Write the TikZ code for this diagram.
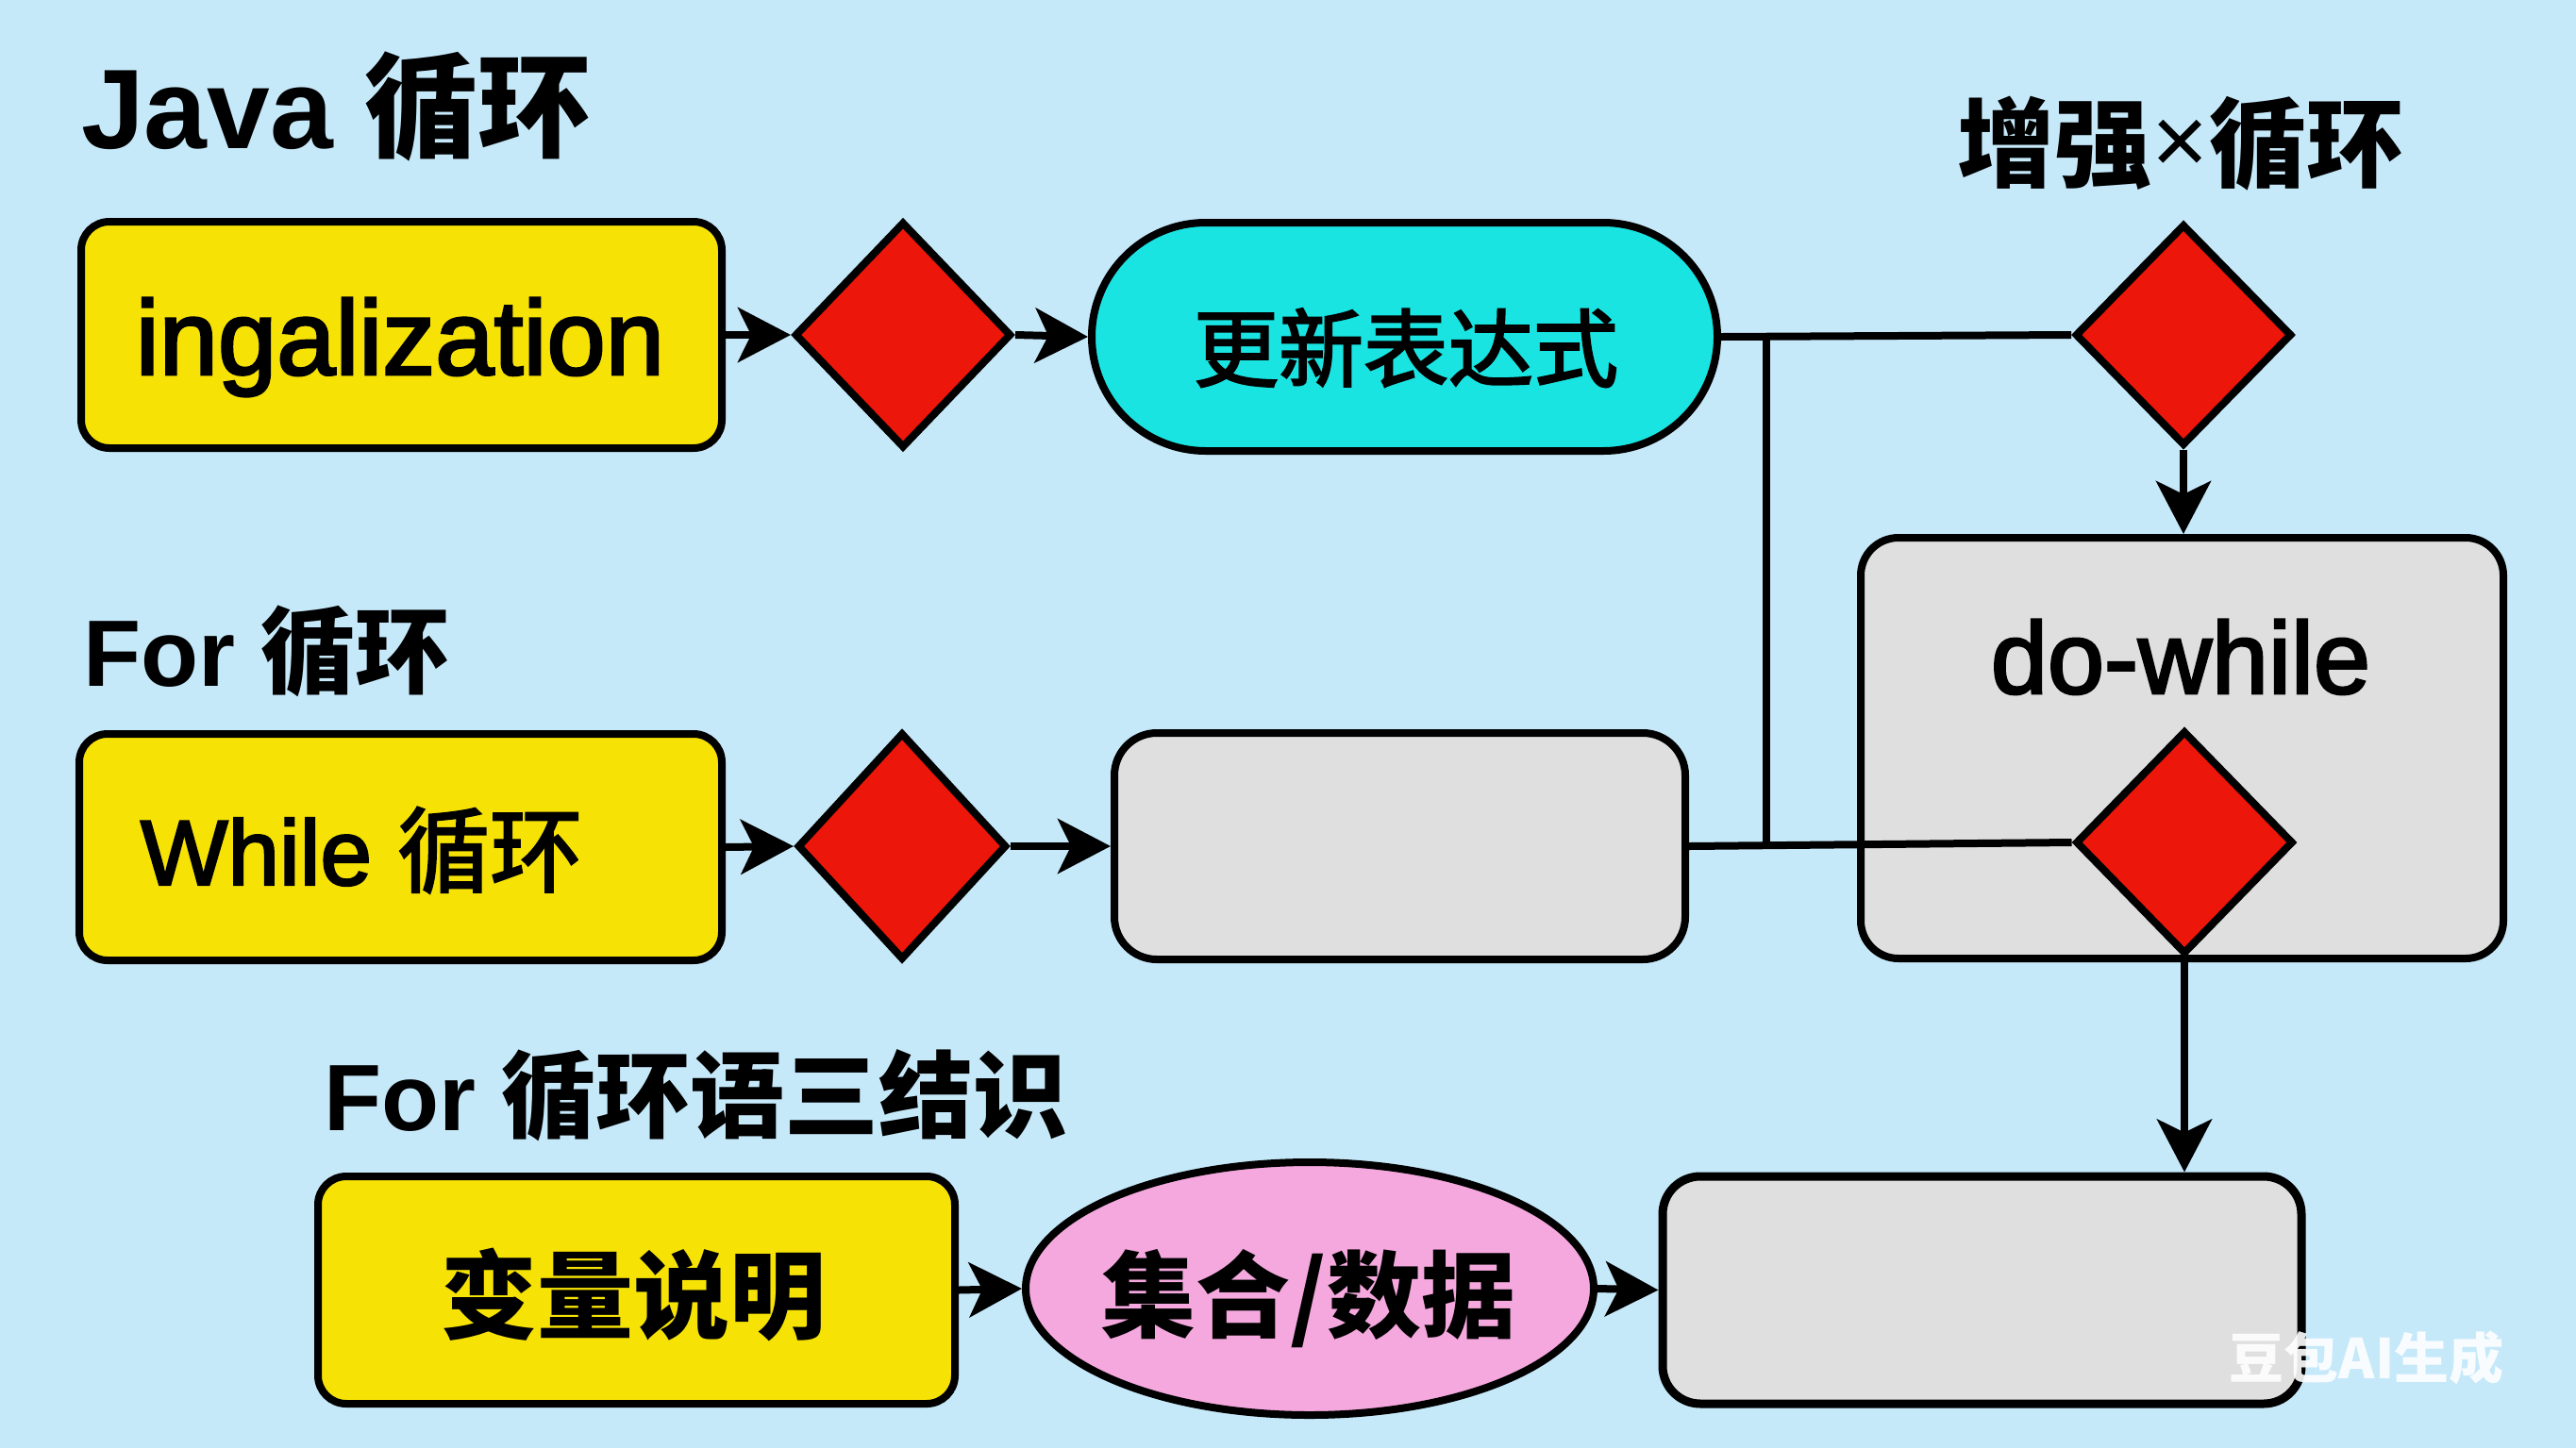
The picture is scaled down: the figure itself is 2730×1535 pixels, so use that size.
\documentclass[tikz,border=0pt]{standalone}
\usepackage{fontspec}
\setmainfont{Liberation Sans}
\newfontfamily\cjk{Noto Sans CJK SC}
\newfontfamily\cjkm{Noto Sans CJK SC}[FakeBold=2.5]
\newfontfamily\latm{Liberation Sans}[FakeBold=2.5]
\usetikzlibrary{shapes.geometric,arrows.meta}
\definecolor{bgc}{RGB}{198,233,250}
\definecolor{yellowc}{RGB}{246,226,5}
\definecolor{redc}{RGB}{236,22,10}
\definecolor{cyanc}{RGB}{25,228,225}
\definecolor{grayc}{RGB}{223,223,223}
\definecolor{pinkc}{RGB}{245,168,222}
\newcommand\setfs[1]{\fontsize{#1}{#1}\selectfont}
\tikzset{
  ybox/.style={draw=black, line width=8pt, fill=yellowc, rounded corners=30pt, inner sep=0pt},
  gbox/.style={draw=black, line width=8pt, fill=grayc, rounded corners=40pt, inner sep=0pt},
  dia/.style={diamond, draw=black, line width=8pt, fill=redc, inner sep=0pt},
  txt/.style={inner sep=0pt, outer sep=0pt},
  arr/.style={line width=8pt, -{Stealth[length=56pt,width=58pt,inset=14pt]}},
  conn/.style={line width=8pt}
}
\begin{document}
\begin{tikzpicture}[x=1pt,y=-1pt]
\useasboundingbox (0,0) rectangle (2730,1535);
\fill[bgc] (0,0) rectangle (2730,1535);

% titles
\node[txt, anchor=base west] (tjava) at (86,157) {\setfs{120}\bfseries Java {\cjk\bfseries 循环}};
\node[txt, anchor=base west] (tfor) at (88,727) {\setfs{100}\bfseries For {\cjk\bfseries 循环}};
\node[txt, anchor=base west] (tfor2) at (343,1198) {\setfs{100}\bfseries For {\cjk\bfseries 循环语三结识}};
\node[txt, anchor=base] (tenh) at (2311,190) {\setfs{103}{\cjk\bfseries 增强}{\raisebox{6pt}{×}}{\cjk\bfseries 循环}};

% row 1
\node[ybox, minimum width=679pt, minimum height=240pt] (box1) at (425.5,355) {};
\node[txt, anchor=base] (t1) at (424,397) {\setfs{112}\latm ingalization};
\node[dia, minimum width=230pt, minimum height=240pt] (d1) at (957,355) {};
\node[draw=black, line width=8pt, fill=cyanc, rounded corners=121pt, inner sep=0pt,
      minimum width=663pt, minimum height=242pt] (stad) at (1488.5,357) {};
\node[txt, anchor=base] (t2) at (1490,403) {\setfs{90}\cjkm 更新表达式};
\node[dia, minimum width=230pt, minimum height=235pt] (d2) at (2314,355) {};

% row 2
\node[ybox, minimum width=681pt, minimum height=240pt] (box2) at (424.5,898) {};
\node[txt, anchor=base west] (t3) at (149,938) {\setfs{98}\latm While {\cjkm 循环}};
\node[dia, minimum width=222pt, minimum height=241pt] (d4) at (956,897) {};
\node[gbox, rounded corners=45pt, minimum width=605pt, minimum height=240pt] (gb1) at (1483.5,897) {};
\node[gbox, minimum width=681pt, minimum height=446pt] (dw) at (2312.5,793) {};
\node[txt, anchor=base] (t4) at (2311,735) {\setfs{108}\latm do-while};
\node[dia, minimum width=231pt, minimum height=237pt] (d3) at (2315,893) {};

% row 3
\node[ybox, minimum width=675pt, minimum height=241pt] (box3) at (674.5,1367.5) {};
\node[txt, anchor=base] (t5) at (671,1411) {\setfs{102}\cjk\bfseries 变量说明};
\node[ellipse, draw=black, line width=8pt, fill=pinkc, inner sep=0pt,
      minimum width=602pt, minimum height=268pt] (ell) at (1388,1366) {};
\node[txt, anchor=base] (t6) at (1387,1410) {\setfs{100}\cjk\bfseries 集合/数据};
\node[gbox, line width=9pt, minimum width=677pt, minimum height=241pt] (gb2) at (2100.5,1367.5) {};

% connectors
\coordinate (j1) at (1872,356);
\coordinate (j2) at (1872,896);
\draw[arr] (box1.east) -- (d1.west);
\draw[arr] (d1.east) -- (stad.west);
\draw[conn] (stad.east) -- (d2.west);
\draw[conn] (j1) -- (j2);
\draw[arr] (d2.south) -- (d2.south |- dw.north);
\draw[arr] (box2.east) -- (d4.west);
\draw[arr] (d4.east) -- (gb1.west);
\draw[conn] (gb1.east) -- (d3.west);
\draw[arr] (d3.south) -- (d3.south |- gb2.north);
\draw[arr] (box3.east) -- (ell.west);
\draw[arr] (ell.east) -- (gb2.west);

% watermark
\node[txt, anchor=base, text=white, opacity=0.9] (wm) at (2508,1461) {\setfs{58}\cjk\bfseries 豆包AI生成};
\end{tikzpicture}
\end{document}
